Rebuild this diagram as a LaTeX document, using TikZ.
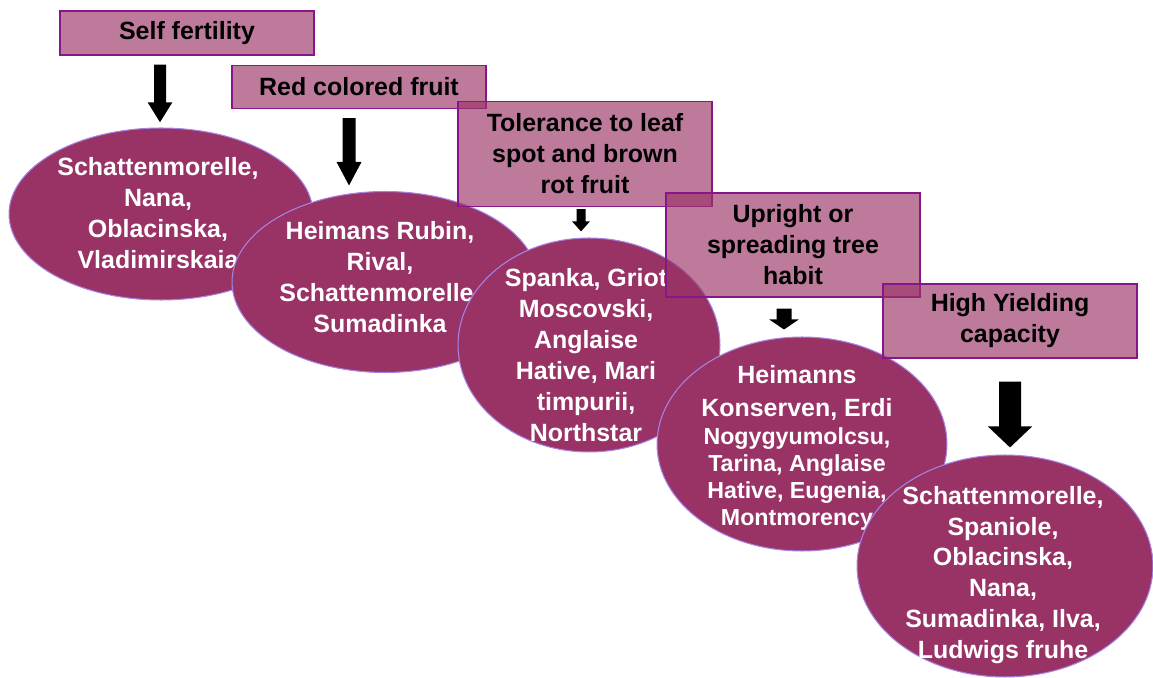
\documentclass[tikz,border=0pt]{standalone}
\usepackage{fontspec}
\setmainfont{Liberation Sans}
\usetikzlibrary{arrows.meta,shapes.geometric}

\definecolor{cherry}{HTML}{993366}
\definecolor{boxline}{HTML}{86178A}
\definecolor{ovalline}{HTML}{A683E6}

\tikzset{
  trait/.style={rectangle, draw=boxline, line width=0.8pt, fill=cherry,
    fill opacity=0.65, text opacity=1, text=black, minimum width=5.08cm,
    align=center, inner sep=0pt, font=\bfseries\fontsize{14.2}{17.6}\selectfont},
  oval/.style={ellipse, draw=ovalline, line width=0.6pt, fill=cherry, inner sep=0pt},
  ovaltext/.style={text=white, align=center, inner sep=0pt,
    font=\bfseries\fontsize{14.2}{17.6}\selectfont},
  blockarrow/.style n args={3}{line width=#1, -{Triangle[width=#2,length=#3]}},
}

\begin{document}
\begin{tikzpicture}[x=0.02cm,y=-0.02cm]
      \useasboundingbox (0,0) rectangle (1153,678);
      % first trait
      \node[trait, minimum height=0.88cm] (b1) at (187,33) {Self fertility};
      \node[oval, minimum width=6.08cm, minimum height=3.44cm] (e1) at (161,214) {};
      \node[ovaltext] (t1) at (158,213) {Schattenmorelle,\\Nana,\\Oblacinska,\\Vladimirskaia};
      \draw[blockarrow={0.24cm}{0.46cm}{0.4cm}] ([xshift=-0.54cm,yshift=-0.18cm]b1.south) -- ([xshift=-0.02cm,yshift=0.1cm]e1.north);
      % second trait
      \node[trait, minimum height=0.86cm] (b2) at (359,87) {Red colored fruit};
      \node[oval, minimum width=6.12cm, minimum height=3.62cm] (e2) at (385,282) {};
      \node[ovaltext] (t2) at (380,277) {Heimans Rubin,\\Rival,\\Schattenmorelle,\\Sumadinka};
      \draw[blockarrow={0.26cm}{0.46cm}{0.48cm}] ([xshift=-0.2cm,yshift=-0.18cm]b2.south) -- ([xshift=-0.72cm,yshift=0.1cm]e2.north);
      % third trait
      \node[trait, minimum height=2.1cm] (b3) at (585,154) {Tolerance to leaf\\spot and brown\\rot fruit};
      \node[oval, minimum width=5.24cm, minimum height=4.28cm] (e3) at (589,345) {};
      \node[ovaltext] (t3) at (586,355) {Spanka, Griot\\Moscovski,\\Anglaise\\Hative, Mari\\timpurii,\\Northstar};
      \draw[blockarrow={0.18cm}{0.34cm}{0.2cm}] ([xshift=-0.08cm,yshift=-0.04cm]b3.south) -- ([xshift=-0.16cm,yshift=0.12cm]e3.north);
      % fourth trait
      \node[trait, minimum height=2.08cm] (b4) at (793,245) {Upright or\\spreading tree\\habit};
      \node[oval, minimum width=5.8cm, minimum height=4.28cm] (e4) at (802,444) {};
      \node[ovaltext, font=\bfseries\fontsize{13.2}{15.3}\selectfont] (t4) at (797,448)
        {{\fontsize{14.2}{17.6}\selectfont Heimanns}\\[3pt]{\fontsize{14.2}{17.6}\selectfont Konserven, Erdi}\\[1pt]Nogygyumolcsu,\\Tarina, Anglaise\\Hative, Eugenia,\\Montmorency};
      \draw[blockarrow={0.3cm}{0.58cm}{0.2cm}] ([xshift=-0.18cm,yshift=-0.22cm]b4.south) -- ([xshift=-0.36cm,yshift=0.14cm]e4.north);
      % fifth trait
      \node[trait, minimum height=1.48cm] (b5) at (1010,321) {High Yielding\\capacity};
      \node[oval, minimum width=5.92cm, minimum height=4.44cm] (e5) at (1005,566) {};
      \node[ovaltext] (t5) at (1003,575) {Schattenmorelle,\\Spaniole,\\Oblacinska,\\Nana,\\Sumadinka, Ilva,\\Ludwigs fruhe};
      \draw[blockarrow={0.44cm}{0.86cm}{0.42cm}] ([yshift=-0.46cm]b5.south) -- ([xshift=0.1cm,yshift=0.14cm]e5.north);
    \end{tikzpicture}
\end{document}
